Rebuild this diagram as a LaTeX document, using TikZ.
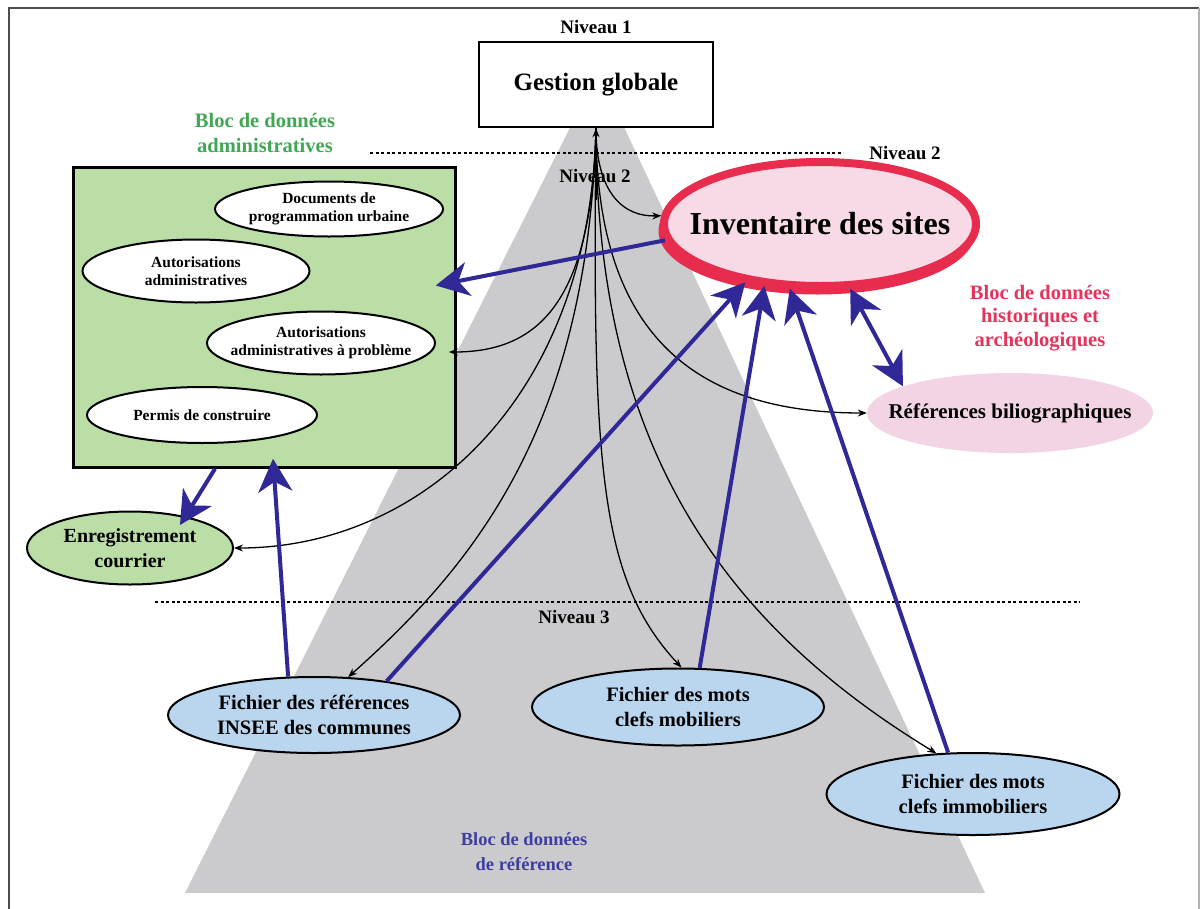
\documentclass[tikz,border=0pt]{standalone}
\usepackage{fontspec}
\setmainfont{Liberation Serif}
\usetikzlibrary{arrows.meta,calc,shapes.geometric}
\definecolor{trigray}{RGB}{203,203,205}
\definecolor{admgreen}{RGB}{186,222,166}
\definecolor{txtgreen}{RGB}{64,168,84}
\definecolor{refblue}{RGB}{186,214,238}
\definecolor{arrblue}{RGB}{48,40,150}
\definecolor{txtblue}{RGB}{62,62,160}
\definecolor{invred}{RGB}{232,44,78}
\definecolor{invpink}{RGB}{247,218,230}
\definecolor{refpink}{RGB}{243,212,228}
\definecolor{txtred}{RGB}{228,52,92}
\newcommand\myfs[2]{\fontsize{#1}{#2}\selectfont\bfseries}
\begin{document}
\begin{tikzpicture}[x=1pt,y=-1pt,
  lbl/.style={inner sep=0pt, align=center},
  ell/.style={ellipse, draw, line width=2pt, inner xsep=-45pt, inner ysep=0pt, align=center},
  smallell/.style={ell, fill=white, font=\myfs{15.5}{18}},
  fichier/.style={ell, fill=refblue, font=\myfs{20.5}{25}},
  conn/.style={line width=1.3pt, -{Stealth[length=9pt,width=7pt]}},
  bigtip/.style={Stealth[length=33pt,width=34pt,inset=10pt]},
  barrow/.style={draw=arrblue, line width=4pt, -{Stealth[length=33pt,width=34pt,inset=10pt]}},
  dbarrow/.style={draw=arrblue, line width=4pt, {Stealth[length=33pt,width=34pt,inset=10pt]}-{Stealth[length=33pt,width=34pt,inset=10pt]}},
  dotline/.style={line width=1.8pt, dash pattern=on 3pt off 2.5pt},
  niv/.style={lbl, font=\myfs{19}{22}}]
\useasboundingbox (0,0) rectangle (1202,908);
\fill[white] (0,0) rectangle (1202,908);
% frame
\draw[line width=2.2pt, black!70] (9,910) -- (9,8) -- (1199,8);
\draw[line width=1.5pt, black!30] (1199,8) -- (1199,910);
% grey pyramid
\fill[trigray] (598,72) -- (985,893) -- (185,893) -- cycle;
% level lines
\draw[dotline] (370,153) -- (843,153);
\draw[dotline] (155,602) -- (1080,602);
% level labels
\node[niv] (niv1) at (596,27) {Niveau 1};
\node[niv] (niv2c) at (595,176) {Niveau 2};
\node[niv] (niv2r) at (905,153) {Niveau 2};
\node[niv] (niv3) at (574,617) {Niveau 3};
% top box
\node[draw, fill=white, line width=2.5pt, minimum width=234pt, minimum height=85pt, font=\myfs{25}{28}] (gg) at (596,84.5) {Gestion globale};
% administrative block
\node[lbl, text=txtgreen, font=\myfs{20.5}{25}] (blocadm) at (265,133) {Bloc de données\\administratives};
\node[draw, fill=admgreen, line width=2.5pt, minimum width=382pt, minimum height=300pt] (green) at (264.5,317.5) {};
\node[smallell, minimum width=228pt, minimum height=55pt] (docs) at (329,209) {Documents de\\programmation urbaine};
\node[smallell, minimum width=227pt, minimum height=63pt] (auto) at (196,271) {Autorisations\\administratives};
\node[smallell, minimum width=228pt, minimum height=63pt] (autoprob) at (321,343) {Autorisations\\administratives à problème};
\node[smallell, minimum width=230pt, minimum height=56pt] (permis) at (202,415) {Permis de construire};
\node[ell, fill=admgreen, minimum width=206pt, minimum height=73pt, font=\myfs{20}{25}] (enreg) at (130,548) {Enregistrement\\courrier};
% historical block
\draw[invred, line width=7pt] (817,231) ellipse [x radius=155, y radius=60];
\node[ellipse, draw=invred, fill=invpink, line width=8pt, minimum width=312pt, minimum height=124pt, inner xsep=-60pt, inner ysep=0pt, font=\myfs{32}{36}] (inv) at (820,224) {Inventaire des sites};
\node[lbl, text=txtred, font=\myfs{20.5}{23.5}] (blochist) at (1040,318) {Bloc de données\\historiques et\\archéologiques};
\node[ellipse, fill=refpink, minimum width=286pt, minimum height=80pt, inner xsep=-45pt, inner ysep=0pt, font=\myfs{21}{25}] (refs) at (1010,413) {Références biliographiques};
% reference block
\node[fichier, minimum width=292pt, minimum height=76pt] (insee) at (314,715) {Fichier des références\\INSEE des communes};
\node[fichier, minimum width=292pt, minimum height=77pt] (mob) at (678,707) {Fichier des mots\\clefs mobiliers};
\node[fichier, minimum width=293pt, minimum height=82pt] (immob) at (973,794) {Fichier des mots\\clefs immobiliers};
\node[lbl, text=txtblue, font=\myfs{18.5}{25}] (blocref) at (524,852) {Bloc de données\\de référence};
% black connectors from the top level
\coordinate (hub) at (596,200);
\draw[conn] (hub) -- (gg.south);
\draw[conn] (gg.south) .. controls (596,195) and (625,217) .. (inv.177);
\draw[conn] (gg.south) .. controls (592,300) and (540,352) .. ($(autoprob.east)+(13,9)$);
\draw[conn] (gg.south) .. controls (590,400) and (420,548) .. (enreg.east);
\draw[conn] (gg.south) .. controls (588,420) and (480,560) .. (insee.48);
\draw[conn] (gg.south) .. controls (592,470) and (600,580) .. (mob.85);
\draw[conn] (gg.south) .. controls (596,420) and (700,610) .. (immob.132);
\draw[conn] (gg.south) .. controls (596,330) and (690,413) .. (refs.west);
% blue data flows
\draw[barrow] (inv.186) -- ($(green.east)+(-21,-32)$);
\draw[barrow] ($(green.south)+(-49.5,0)$) -- ($(enreg.center)+(50,-23)$);
\draw[barrow] (insee.124) -- ($(green.south)+(8.5,-10)$);
\draw[barrow] (insee.25) -- (inv.218);
\draw[barrow] (mob.61) -- (inv.228);
\draw[barrow] (immob.121) -- (inv.245);
\draw[dbarrow] (inv.295) -- (refs.166);
\end{tikzpicture}
\end{document}
